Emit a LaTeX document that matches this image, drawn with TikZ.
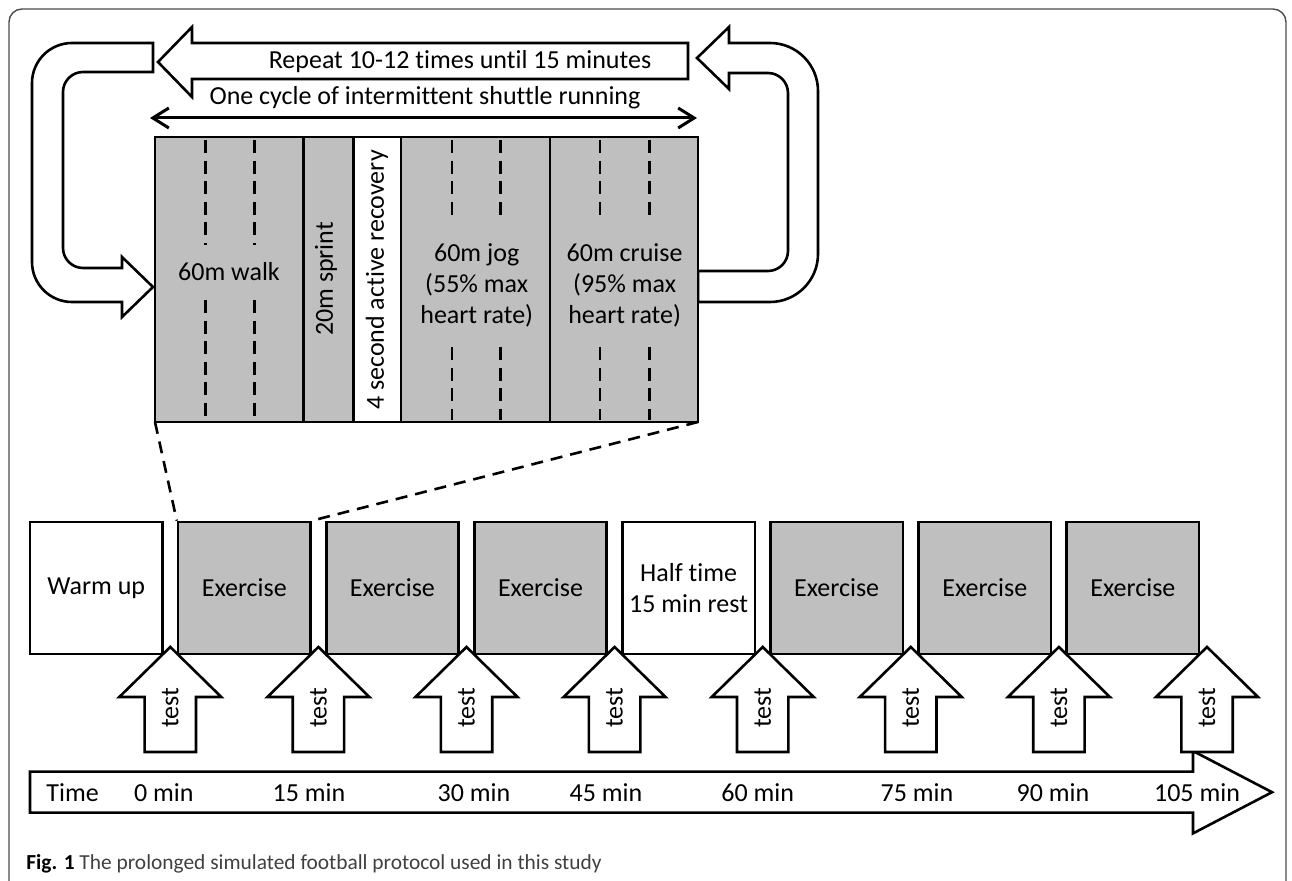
\documentclass[tikz,border=0pt]{standalone}
\usepackage{fontspec}
\setmainfont{Carlito}[Ligatures=CommonOff]
\usetikzlibrary{arrows.meta}
\usetikzlibrary{calc}
\definecolor{boxgray}{RGB}{191,191,191}

\begin{document}
\begin{tikzpicture}[x=0.5pt,y=-0.5pt,
    every node/.style={font=\fontsize{13}{15.5}\selectfont},
    outline/.style={draw=black, line width=1.3pt, line join=miter},
    blockarrow/.style={outline, fill=white},
    stage/.style={outline, minimum width=66.2pt, minimum height=66pt, inner sep=0pt, align=center},
    lane/.style={black, line width=1.4pt, dash pattern=on 6.5pt off 3.8pt},
    zoomline/.style={black, line width=1.3pt, dash pattern=on 6pt off 4pt}]

        \useasboundingbox (0,0) rectangle (1292,881);

        % Frame
        \draw[black!70, line width=0.7pt, rounded corners=6.5pt] (9,900) -- (9,9) -- (1286,9) -- (1286,900);

        % Repeat arrow
        \draw[blockarrow] (158,62) -- (192,27) -- (192,43) -- (688,43) -- (688,79) -- (192,79) -- (192,97) -- cycle;
        \node (repeat) at (460,62) {Repeat 10-12 times until 15 minutes};

        % Left loop
        \draw[blockarrow] (153,43) -- (72,43) .. controls (49.9,43) and (32,60.9) .. (32,83)
          -- (32,262) .. controls (32,284.1) and (49.9,302) .. (72,302)
          -- (122,302) -- (122,317) -- (153,287) -- (122,257) -- (122,268)
          -- (83,268) .. controls (72,268) and (63,259) .. (63,248)
          -- (63,92) .. controls (63,81) and (72,72) .. (83,72) -- (153,72) -- cycle;

        % Right loop
        \draw[blockarrow] (729,43) -- (770,43) .. controls (796.5,43) and (818,64.5) .. (818,91)
          -- (818,254) .. controls (818,280.5) and (796.5,302) .. (770,302)
          -- (698,302) -- (698,271)
          -- (768,271) .. controls (779,271) and (788,262) .. (788,251)
          -- (788,93) .. controls (788,82) and (779,73) .. (768,73)
          -- (729,73) -- (729,89) -- (697,58) -- (729,27) -- cycle;

        % One cycle
        \coordinate (cycleL) at (150,118);
        \coordinate (cycleR) at (697,118);
        \draw[line width=1.5pt, {Straight Barb[length=8pt,width=10pt]}-{Straight Barb[length=8pt,width=10pt]}] (cycleL) -- (cycleR);
        \node (cycle) at (425,98) {One cycle of intermittent shuttle running};

        % Shuttle block
        \draw[outline, fill=boxgray] (155,137) rectangle (698,422);
        \draw[outline, fill=white] (353.5,137) rectangle (401,422);
        \foreach \x in {303.5,550}
        {
          \draw[outline] (\x,137) -- (\x,422);
        }
        \foreach \x in {205.5,254.7}
        {
          \draw[lane] (\x,140) -- (\x,245);
          \draw[lane] (\x,300) -- (\x,420);
        }
        \foreach \x in {452,500.7,600,649.8}
        {
          \draw[lane] (\x,140) -- (\x,222);
          \draw[lane] (\x,347) -- (\x,420);
        }
        \coordinate (blockSW) at (155,422);
        \coordinate (blockSE) at (698,422);

        \node (walk) at (229,272) {60m walk};
        \node[rotate=90] (sprint) at (326,279) {20m sprint};
        \node[rotate=90] (recovery) at (377,280) {4 second active recovery};
        \node[align=center] (jog) at (476.7,285) {60m jog\\(55\% max\\heart rate)};
        \node[align=center] (cruise) at (624.6,285) {60m cruise\\(95\% max\\heart rate)};

        % Stages
        \foreach \i/\lab/\col in {0/Warm up/white, 1/Exercise/boxgray, 2/Exercise/boxgray, 3/Exercise/boxgray,
                                  4/{Half time\\15 min rest}/white, 5/Exercise/boxgray, 6/Exercise/boxgray, 7/Exercise/boxgray}
        {
          \node[stage, fill=\col] (stage\i) at (96.2+148.1*\i,588) {\lab};
        }

        % Zoom lines
        \draw[zoomline] (blockSW) -- (stage1.north west);
        \draw[zoomline] (blockSE) -- (stage1.north east);

        % Time arrow
        \draw[blockarrow] (30,771.7) -- (1193,771.7) -- (1193,751) -- (1272,792.2) -- (1193,833.4) -- (1193,812.7) -- (30,812.7) -- cycle;
        \node (time) at (72.6,793) {Time};
        \foreach \t/\xx in {0/163.8, 15/309, 30/474, 45/606, 60/757.7, 75/917, 90/1053, 105/1197}
        {
          \node (time\t) at (\xx,793) {\t{} min};
        }

        % Test arrows
        \foreach \i in {0,...,7}
        {
          \coordinate (tip\i) at (170.3+148.1*\i,647);
          \draw[blockarrow] (tip\i) -- ($(tip\i)+(51,50)$) -- ($(tip\i)+(25.7,50)$) -- ($(tip\i)+(25.7,105)$)
            -- ($(tip\i)+(-25.7,105)$) -- ($(tip\i)+(-25.7,50)$) -- ($(tip\i)+(-51,50)$) -- cycle;
          \node[rotate=90] (test\i) at ($(tip\i)+(0,61)$) {test};
        }

        % Caption
        \node[anchor=base west, inner sep=0pt, font=\fontsize{10.7}{13}\selectfont, text=black!75] (caption) at (26,870)
          {\textbf{\color{black}Fig. 1} The prolonged simulated football protocol used in this study};
    \end{tikzpicture}
\end{document}
